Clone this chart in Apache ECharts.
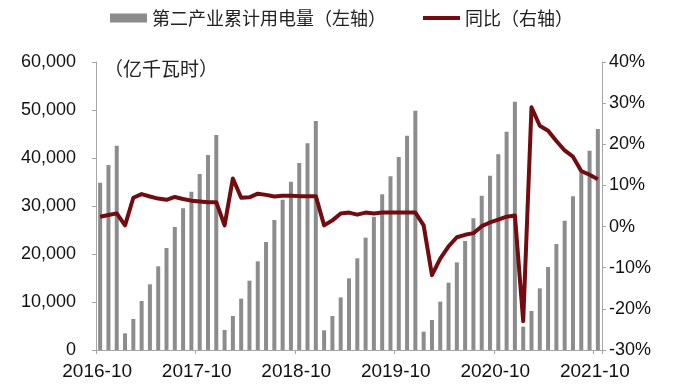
<!DOCTYPE html>
<html>
<head>
<meta charset="utf-8">
<script src="https://cdn.jsdelivr.net/npm/echarts@6/dist/echarts.min.js"></script>
<style>html,body{margin:0;padding:0;background:#fff;}#c{width:680px;height:392px;}</style>
</head>
<body>
<div id="c"></div>
<script>
var months = ["2016-10","2016-11","2016-12",
"2017-01","2017-02","2017-03","2017-04","2017-05","2017-06","2017-07","2017-08","2017-09","2017-10","2017-11","2017-12",
"2018-01","2018-02","2018-03","2018-04","2018-05","2018-06","2018-07","2018-08","2018-09","2018-10","2018-11","2018-12",
"2019-01","2019-02","2019-03","2019-04","2019-05","2019-06","2019-07","2019-08","2019-09","2019-10","2019-11","2019-12",
"2020-01","2020-02","2020-03","2020-04","2020-05","2020-06","2020-07","2020-08","2020-09","2020-10","2020-11","2020-12",
"2021-01","2021-02","2021-03","2021-04","2021-05","2021-06","2021-07","2021-08","2021-09","2021-10"];

var consumption = [34860,38540,42570,
3470,6460,10210,13680,17430,21250,25620,29510,32990,36670,40620,44790,
4170,7080,10690,14440,18470,22500,27080,31320,35070,38960,43050,47710,
4100,7080,10970,14930,19100,23400,27780,32430,36180,40210,44650,49860,
3820,6250,10070,14030,18260,22710,27430,32150,36320,40760,45490,51740,
4860,8130,12850,17290,22080,26940,32010,37010,41530,46040];

var yoy = [2.4,2.8,3.2,
0.3,7.0,7.9,7.3,6.8,6.5,7.2,6.7,6.3,6.1,5.9,5.9,
0.3,11.7,7.0,7.1,8.0,7.7,7.3,7.5,7.5,7.4,7.4,7.4,
0.3,1.5,3.2,3.4,2.9,3.4,3.2,3.4,3.4,3.4,3.4,3.4,
0.3,-11.8,-7.8,-4.8,-2.6,-2.0,-1.6,0.1,1.0,1.7,2.4,2.7,
-23.0,29.0,24.5,23.3,20.8,18.5,17.0,13.5,12.6,11.5];

var leftTicks = {min:0, max:60000, interval:10000};
var rightTicks = {min:-30, max:40, interval:10};

var seriesNames = ["第二产业累计用电量（左轴）","同比（右轴）"];
var unitLabel = "（亿千瓦时）";

var numFont = "Liberation Sans, Arial, sans-serif";
var cjkFont = "Noto Sans CJK SC, sans-serif";
var axisColor = "#a6a6a6";
var barColor = "#8c8c8c";
var lineColor = "#720c10";

var chart = echarts.init(document.getElementById('c'), null, {renderer:'canvas'});
function everyYear(i){ return i % 12 === 0; }
chart.setOption({
  animation:false,
  backgroundColor:'#fff',
  grid:{left:96, right:78, top:62, bottom:42, containLabel:false},
  legend:[{
    top:9, left:110, padding:0, itemWidth:37, itemHeight:9,
    textStyle:{fontFamily:cjkFont, fontSize:18, color:'#222'},
    data:[{name:seriesNames[0], icon:'rect'}]
  },{
    top:9, left:423, padding:0, itemWidth:37, itemHeight:4,
    textStyle:{fontFamily:cjkFont, fontSize:18, color:'#222'},
    data:[{name:seriesNames[1], icon:'rect', itemStyle:{color:lineColor}}]
  }],
  graphic:[{type:'text', left:104, top:59, style:{text:unitLabel, font:'19px '+cjkFont, fill:'#222'}}],
  xAxis:{
    type:'category', data:months, boundaryGap:true,
    axisLine:{lineStyle:{color:axisColor, width:1}},
    axisTick:{show:true, interval:everyYear, length:4, lineStyle:{color:axisColor}},
    axisLabel:{interval:everyYear, margin:12, fontFamily:numFont, fontSize:19, color:'#111', padding:[0,6,0,0]}
  },
  yAxis:[{
    type:'value', min:leftTicks.min, max:leftTicks.max, interval:leftTicks.interval, position:'left',
    splitLine:{show:false},
    axisLine:{show:true, lineStyle:{color:axisColor}},
    axisTick:{show:true, length:4, lineStyle:{color:axisColor}},
    axisLabel:{margin:20, fontFamily:numFont, fontSize:18, color:'#111',
      formatter:function(v){return v.toString().replace(/\B(?=(\d{3})+(?!\d))/g, ',');}}
  },{
    type:'value', min:rightTicks.min, max:rightTicks.max, interval:rightTicks.interval, position:'right',
    splitLine:{show:false},
    axisLine:{show:true, lineStyle:{color:axisColor}},
    axisTick:{show:true, length:4, lineStyle:{color:axisColor}},
    axisLabel:{margin:7, fontFamily:numFont, fontSize:18, color:'#111', formatter:'{value}%'}
  }],
  series:[{
    name:seriesNames[0], type:'bar', data:consumption, yAxisIndex:0,
    barWidth:4, itemStyle:{color:barColor}
  },{
    name:seriesNames[1], type:'line', data:yoy, yAxisIndex:1,
    symbol:'none', showSymbol:false,
    lineStyle:{color:lineColor, width:4, join:'round'}, itemStyle:{color:lineColor}
  }]
});
</script>
</body>
</html>
